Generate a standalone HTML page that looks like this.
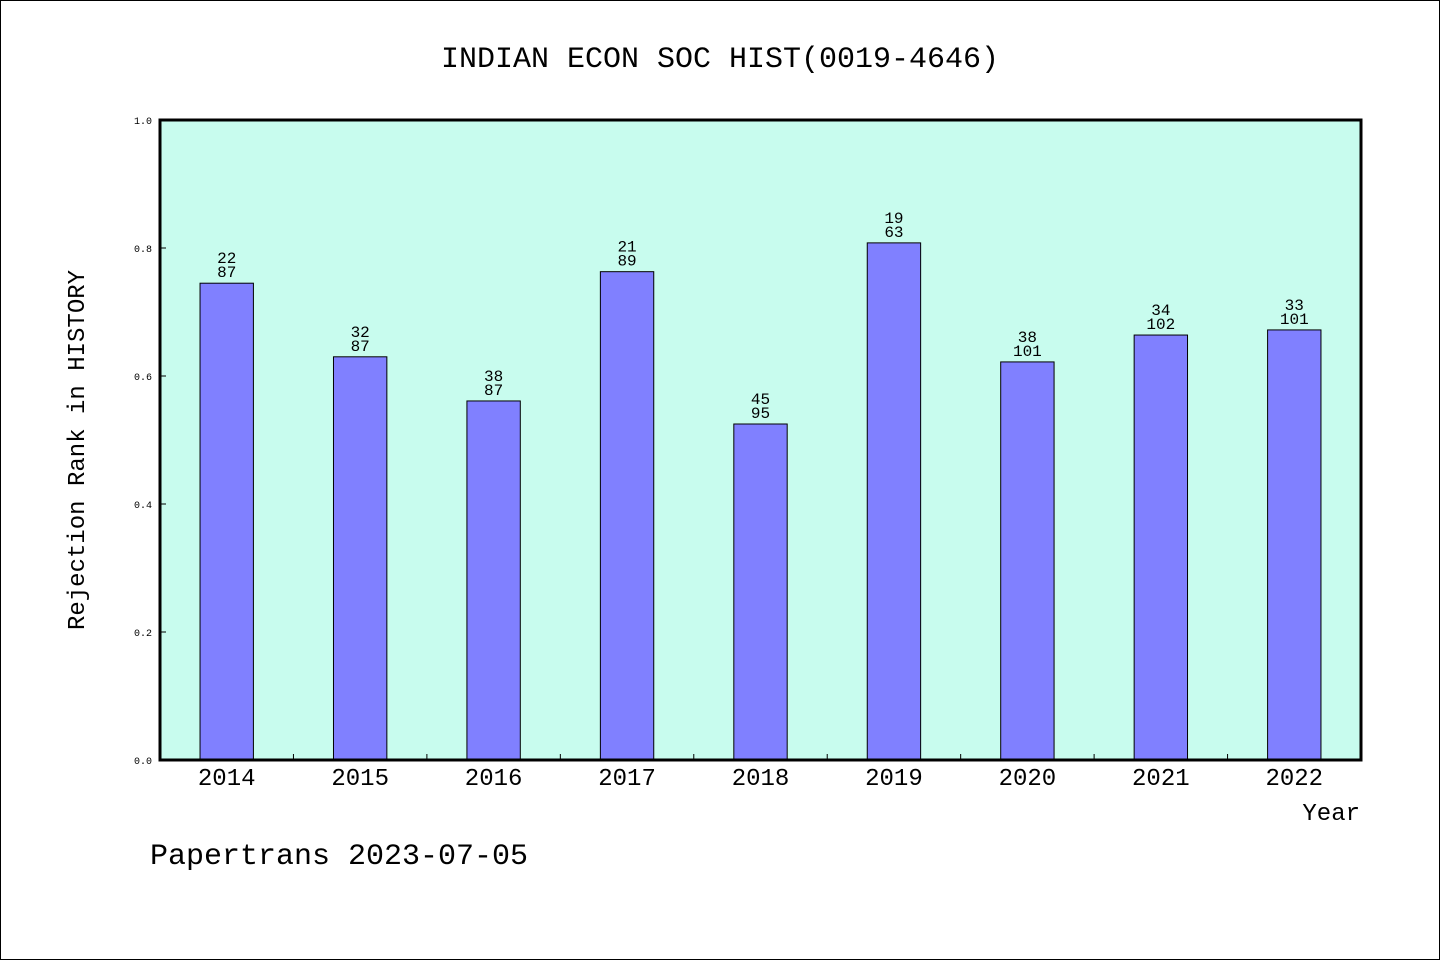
<!DOCTYPE html>
<html><head><meta charset="utf-8"><style>
body{margin:0;background:#fff}
svg{display:block;font-family:"WenQuanYi Zen Hei","Liberation Mono",monospace}
</style></head><body>
<svg id="chart" width="1440" height="960">
<rect x="0.5" y="0.5" width="1439" height="959" fill="#fff" stroke="#000"/>
<text x="720" y="67" font-size="30" text-anchor="middle">INDIAN ECON SOC HIST(0019-4646)</text>
<rect x="160" y="120" width="1201" height="640" fill="#c8fcee"/>
<g id="bars"></g>
<rect x="160" y="120" width="1201" height="640" fill="none" stroke="#000" stroke-width="3"/>
<text transform="translate(84,450) rotate(-90)" font-size="24" text-anchor="middle">Rejection Rank in HISTORY</text>
<text x="1360" y="820" font-size="24" text-anchor="end">Year</text>
<text x="150" y="864" font-size="30">Papertrans 2023-07-05</text>
</svg>
<script>
const years=["2014","2015","2016","2017","2018","2019","2020","2021","2022"];
const values=[0.745,0.630,0.561,0.763,0.525,0.808,0.622,0.664,0.672];
const ranks=["22","32","38","21","45","19","38","34","33"];
const totals=["87","87","87","89","95","63","101","102","101"];
const yTicks=[0,0.2,0.4,0.6,0.8,1.0];
const X0=160,X1=1361,Y0=760,Y1=120;
const step=(X1-X0)/years.length;
const xc=i=>X0+step*(i+0.5);
const y=v=>Y0-(Y0-Y1)*v;
const NS="http://www.w3.org/2000/svg";
const g=document.getElementById('bars');
function mk(t,a){const e=document.createElementNS(NS,t);for(const k in a)e.setAttribute(k,a[k]);return e;}
years.forEach((yr,i)=>{
  const bw=step*0.4;
  const r=mk('rect',{x:xc(i)-bw/2,y:y(values[i]),width:bw,height:Y0-y(values[i]),fill:'#8080ff',stroke:'#000','stroke-width':1});
  
  
  g.appendChild(r);
  const t1=mk('text',{x:xc(i),y:y(values[i])-20,'font-size':16,'text-anchor':'middle'});
  t1.textContent=ranks[i];
  
  
  g.appendChild(t1);
  const t2=mk('text',{x:xc(i),y:y(values[i])-6,'font-size':16,'text-anchor':'middle'});
  t2.textContent=totals[i];
  
  
  g.appendChild(t2);
  const xl=mk('text',{x:xc(i),y:785,'font-size':24,'text-anchor':'middle'});
  xl.textContent=yr;
  
  
  g.appendChild(xl);
  if(i>0){
    const tk=mk('line',{x1:X0+step*i,x2:X0+step*i,y1:Y0,y2:Y0-6,stroke:'#000'});
    
    
    g.appendChild(tk);
  }
});
yTicks.forEach(v=>{
  const tk=mk('line',{x1:X0,x2:X0+6,y1:y(v),y2:y(v),stroke:'#000'});
  
  
  g.appendChild(tk);
  const tl=mk('text',{x:X0-8,y:y(v)+4,'font-size':10,'text-anchor':'end'});
  tl.textContent=v.toFixed(1);
  
  
  g.appendChild(tl);
});
</script>
</body></html>
